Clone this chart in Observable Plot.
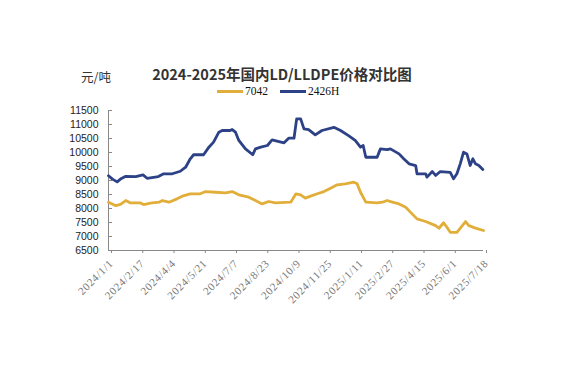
<!DOCTYPE html>
<html>
<head>
<meta charset="utf-8">
<script src="https://cdn.jsdelivr.net/npm/d3@7"></script>
<script src="https://cdn.jsdelivr.net/npm/@observablehq/plot@0.6"></script>
<style>
  html, body { margin: 0; padding: 0; background: #fff; }
  #wrap { position: relative; width: 562px; height: 381px; overflow: hidden; background: #fff; }
  #wrap svg { position: absolute; left: 0; top: 0; }
  #wrap svg g[aria-label="x-axis tick label"] text { letter-spacing: 0.7px; }
  .abs { position: absolute; white-space: nowrap; }
  #title { left: 0; width: 564px; top: 63px; text-align: center; font-family: "Noto Sans CJK SC", sans-serif; font-weight: bold; font-size: 14.5px; color: #333; }
  #unit { left: 81px; top: 67px; font-family: "Noto Sans CJK SC", sans-serif; font-size: 12.5px; color: #333; }
  #legend { left: 217px; top: 85px; font-family: "Liberation Serif", serif; font-size: 11.5px; color: #111; display: flex; align-items: center; }
  #legend .sw { display: inline-block; width: 26px; height: 3px; margin-right: 2px; }
  #legend .item { display: flex; align-items: center; margin-right: 12px; }
</style>
</head>
<body>
<div id="wrap">
  <div id="unit" class="abs">元/吨</div>
  <div id="title" class="abs">2024-2025年国内LD/LLDPE价格对比图</div>
  <div id="legend" class="abs"></div>
</div>
<script>
// ---- data ----
const seriesNames = ["7042", "2426H"];
const seriesColors = ["#E2AE3A", "#2C4186"];

const yellowDates = ["2024-01-01","2024-01-12","2024-01-19","2024-01-27","2024-02-03","2024-02-18","2024-02-23","2024-03-04","2024-03-17","2024-03-22","2024-04-01","2024-04-13","2024-04-21","2024-05-03","2024-05-18","2024-05-26","2024-06-10","2024-06-25","2024-07-05","2024-07-15","2024-07-30","2024-08-09","2024-08-19","2024-08-29","2024-09-08","2024-10-01","2024-10-09","2024-10-16","2024-10-23","2024-10-31","2024-11-10","2024-11-20","2024-11-30","2024-12-10","2024-12-22","2025-01-04","2025-01-09","2025-01-14","2025-01-22","2025-02-08","2025-02-16","2025-02-23","2025-03-03","2025-03-13","2025-03-23","2025-03-30","2025-04-09","2025-04-22","2025-05-07","2025-05-12","2025-05-19","2025-05-24","2025-05-29","2025-06-08","2025-06-21","2025-06-26","2025-07-06","2025-07-18"];
const yellowValues = [8225,8100,8150,8285,8200,8200,8140,8190,8225,8285,8225,8345,8440,8525,8525,8605,8580,8560,8605,8490,8405,8285,8165,8250,8200,8225,8525,8490,8370,8440,8525,8605,8725,8845,8880,8940,8880,8580,8225,8200,8225,8285,8225,8165,8045,7870,7630,7535,7390,7295,7490,7330,7150,7150,7535,7390,7300,7215];

const blueDates = ["2024-01-01","2024-01-07","2024-01-14","2024-01-19","2024-01-27","2024-02-11","2024-02-22","2024-02-28","2024-03-16","2024-03-24","2024-04-06","2024-04-18","2024-04-26","2024-05-03","2024-05-08","2024-05-23","2024-05-31","2024-06-07","2024-06-15","2024-06-20","2024-07-02","2024-07-05","2024-07-10","2024-07-15","2024-07-25","2024-08-05","2024-08-09","2024-08-17","2024-08-27","2024-09-03","2024-09-21","2024-09-28","2024-10-06","2024-10-10","2024-10-16","2024-10-21","2024-10-28","2024-11-07","2024-11-17","2024-12-05","2024-12-15","2024-12-27","2025-01-06","2025-01-14","2025-01-18","2025-01-22","2025-02-08","2025-02-13","2025-02-23","2025-02-28","2025-03-13","2025-03-20","2025-03-28","2025-04-07","2025-04-09","2025-04-22","2025-04-24","2025-05-02","2025-05-07","2025-05-14","2025-05-29","2025-06-03","2025-06-08","2025-06-13","2025-06-18","2025-06-23","2025-06-28","2025-07-02","2025-07-06","2025-07-11","2025-07-17"];
const blueValues = [9170,9050,8950,9050,9150,9140,9200,9080,9140,9240,9240,9330,9475,9775,9920,9920,10190,10370,10725,10785,10785,10820,10725,10430,10130,9920,10130,10190,10250,10450,10345,10510,10510,11200,11200,10845,10820,10630,10785,10900,10785,10605,10430,10190,10250,9830,9830,10130,10100,10130,9950,9775,9595,9535,9240,9240,9120,9320,9180,9320,9290,9060,9240,9595,10010,9950,9535,9775,9595,9535,9390];

const xTickLabels = ["2024/1/1","2024/2/17","2024/4/4","2024/5/21","2024/7/7","2024/8/23","2024/10/9","2024/11/25","2025/1/11","2025/2/27","2025/4/15","2025/6/1","2025/7/18"];
const yTicks = [6500,7000,7500,8000,8500,9000,9500,10000,10500,11000,11500];

// ---- build ----
const parseLabel = s => { const [y,m,d] = s.split("/").map(Number); return new Date(Date.UTC(y, m-1, d)); };
const xTicks = xTickLabels.map(parseLabel);
const fmt = d => `${d.getUTCFullYear()}/${d.getUTCMonth()+1}/${d.getUTCDate()}`;

const data = [];
yellowDates.forEach((d,i) => data.push({date: new Date(d), value: yellowValues[i], series: seriesNames[0]}));
blueDates.forEach((d,i) => data.push({date: new Date(d), value: blueValues[i], series: seriesNames[1]}));

const chart = Plot.plot({
  width: 562,
  height: 381,
  marginLeft: 108,
  marginRight: 79,
  marginTop: 110,
  marginBottom: 131,
  style: {background: "transparent", fontFamily: "Liberation Sans, Arial, sans-serif"},
  x: {type: "utc", domain: [xTicks[0], xTicks[xTicks.length-1]]},
  y: {domain: [yTicks[0], yTicks[yTicks.length-1]]},
  color: {domain: seriesNames, range: seriesColors},
  marks: [
    Plot.axisY({ticks: yTicks, tickFormat: d => String(d), tickSize: -4, tickPadding: 14, stroke: "#888", fill: "#222", fontSize: 10.5, label: null}),
    Plot.axisX({ticks: xTicks, tickFormat: fmt, tickSize: 3, tickPadding: 8, dx: 3, tickRotate: -45, stroke: "#888", fill: "#777", fontSize: 11, fontFamily: "Liberation Serif, serif", label: null}),
    Plot.ruleX([xTicks[0]], {stroke: "#888", strokeWidth: 1}),
    Plot.ruleY([yTicks[0]], {stroke: "#888", strokeWidth: 1}),
    Plot.line(data, {x: "date", y: "value", z: "series", stroke: "series", strokeWidth: 2.8, strokeLinejoin: "round", strokeLinecap: "round"})
  ]
});
document.getElementById("wrap").appendChild(chart);

const legend = document.getElementById("legend");
seriesNames.forEach((n, i) => {
  const it = document.createElement("span");
  it.className = "item";
  it.innerHTML = `<span class="sw" style="background:${seriesColors[i]}"></span>${n}`;
  legend.appendChild(it);
});
</script>
</body>
</html>
